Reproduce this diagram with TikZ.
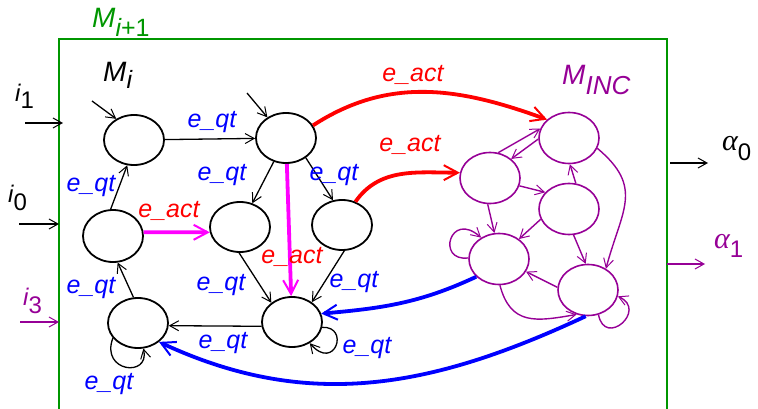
\documentclass[tikz,border=0pt]{standalone}
\usepackage{fontspec}
\setmainfont{Liberation Sans}
\newfontfamily\greekf{Liberation Serif}
\usetikzlibrary{shapes.geometric,arrows.meta}
\definecolor{grn}{RGB}{0,150,0}
\definecolor{pur}{RGB}{150,0,150}
\definecolor{mag}{RGB}{255,0,255}
\definecolor{blu}{RGB}{0,0,255}
\definecolor{rd}{RGB}{255,0,0}
\begin{document}
\begin{tikzpicture}[x=1pt,y=-1pt,
  st/.style={ellipse,draw,line width=1.8pt,minimum width=60pt,minimum height=50pt,inner sep=0pt},
  pst/.style={st,draw=pur,line width=1.6pt},
  blk/.style={line width=1.3pt,-{Straight Barb[length=9pt,width=10pt,line width=1pt]}},
  pedge/.style={pur,line width=1.4pt,-{Straight Barb[length=9pt,width=10pt,line width=1pt]}},
  thk/.style={line width=3.8pt,-{Straight Barb[length=14pt,width=15pt,line width=2pt]}},
  lbl/.style={font=\fontsize{25}{28}\selectfont\itshape,anchor=base,inner sep=0pt},
  big/.style={font=\fontsize{28}{30}\selectfont,anchor=base west,inner sep=0pt},
  inp/.style={font=\fontsize{24}{26}\selectfont,anchor=base west,inner sep=0pt}
]
\useasboundingbox (0,0) rectangle (758,409);
% frame
\draw[grn,line width=1.5pt] (59,412) -- (59,39) -- (667,39) -- (667,412);
\node[big,text=grn] (Mi1) at (92,28) {\itshape M\raisebox{-9pt}{\fontsize{25}{25}\selectfont\itshape i\upshape+1}};
\node[big] (Mi) at (103,82) {\itshape M\raisebox{-7pt}{\fontsize{25}{25}\selectfont\itshape i}};
\node[big,text=pur] (Minc) at (562,85) {\itshape M\raisebox{-10pt}{\fontsize{26}{26}\selectfont\itshape INC}};
% inputs / outputs
\node[inp] (i1) at (15,102) {\itshape i\raisebox{-7pt}{\upshape 1}};
\node[inp] (i0) at (8,202) {\itshape i\raisebox{-9pt}{\upshape 0}};
\node[inp,text=pur] (i3) at (23,305) {\itshape i\raisebox{-8pt}{\upshape 3}};
\node[inp] (a0) at (722,150) {{\greekf\itshape\fontsize{30}{30}\selectfont α}\raisebox{-10pt}{\fontsize{24}{24}\selectfont 0}};
\node[inp,text=pur] (a1) at (714,248) {{\greekf\itshape\fontsize{30}{30}\selectfont α}\raisebox{-9pt}{\fontsize{24}{24}\selectfont 1}};
\coordinate (i1s) at (25,123); \coordinate (i1e) at (63,123);
\coordinate (i0s) at (19,224); \coordinate (i0e) at (59,224);
\coordinate (i3s) at (20,322); \coordinate (i3e) at (59,322);
\coordinate (a0s) at (670,163); \coordinate (a0e) at (708,163);
\coordinate (a1s) at (667,264); \coordinate (a1e) at (705,264);
\draw[blk] (i1s) -- (i1e);
\draw[blk] (i0s) -- (i0e);
\draw[pedge] (i3s) -- (i3e);
\draw[blk] (a0s) -- (a0e);
\draw[pedge] (a1s) -- (a1e);
% black states
\node[st] (A) at (134,140) {};
\node[st] (B) at (286,138) {};
\node[st,minimum height=52pt] (C) at (113,236) {};
\node[st] (D) at (240,227) {};
\node[st] (E) at (342,225) {};
\node[st] (F) at (138,323) {};
\node[st] (G) at (292,322) {};
% purple states
\node[pst,minimum height=51pt] (P1) at (569,138) {};
\node[pst,minimum height=51pt] (P2) at (490,178) {};
\node[pst,minimum height=51pt] (P3) at (569,209) {};
\node[pst,minimum height=51pt] (P4) at (499,259) {};
\node[pst,minimum height=51pt] (P5) at (588,290) {};
% initial arrows
\coordinate (iA) at (92,101); \coordinate (iB) at (247,93);
\draw[blk] (iA) -- (A.130);
\draw[blk] (iB) -- (B.132);
% black edges
\draw[blk] (A) -- (B);
\draw[blk] (C.95) -- (A.255);
\draw[blk] (B) -- (D);
\draw[blk] (B.-45) -- (E.110);
\draw[blk] (D.268) -- (G.137);
\draw[blk] (E.275) -- (G.45);
\draw[blk] (G.188) -- (F.355);
\draw[blk] (F.100) -- (C.-80);
\draw[blk] (F.211) .. controls (100,372) and (150,378) .. (F.282);
\draw[blk] (G.-10) .. controls (350,326) and (335,372) .. (G.-50);
% magenta
\draw[thk,mag] (C.7) -- (D.190);
\draw[thk,mag] (B) -- (G);
% red
\draw[thk,rd] (B.25) to[out=33,in=160] (P1.140);
\draw[thk,rd] (E.60) to[out=55,in=180] (P2.170);
% blue
\draw[thk,blu] (P4.218) to[out=205,in=5] (G.16);
\draw[thk,blu] (P5.265) to[out=205,in=-25] (F.318);
% purple edges
\draw[pedge] (P2.72) -- (P1.162);
\draw[pedge] (P1.182) -- (P2.42);
\draw[pedge] (P2.-15) -- (P3.145);
\draw[pedge] (P3.75) -- (P1.-88);
\draw[pedge] (P2.-95) -- (P4.100);
\draw[pedge] (P3.200) -- (P4.45);
\draw[pedge] (P3.-80) -- (P5.95);
\draw[pedge] (P1.-20) to[out=-40,in=75,looseness=1.3] (P5.50);
\draw[pedge] (P5.175) -- (P4.-25);
\draw[pedge] (P4.-88) to[out=-75,in=190,looseness=1.3] (P5.245);
\draw[pedge] (P4.178) .. controls (436,262) and (450,210) .. (P4.130);
\draw[pedge] (P5.-67) .. controls (605,348) and (648,310) .. (P5.-12);
% labels
\node[lbl,text=blu] (l1) at (212,128) {e\_qt};
\node[lbl,text=blu] (l2) at (91,191) {e\_qt};
\node[lbl,text=blu] (l3) at (222,180) {e\_qt};
\node[lbl,text=blu] (l4) at (334,180) {e\_qt};
\node[lbl,text=blu] (l5) at (221,290) {e\_qt};
\node[lbl,text=blu] (l6) at (354,287) {e\_qt};
\node[lbl,text=blu] (l7) at (91,293) {e\_qt};
\node[lbl,text=blu] (l8) at (223,348) {e\_qt};
\node[lbl,text=blu] (l9) at (109,389) {e\_qt};
\node[lbl,text=blu] (l10) at (367,353) {e\_qt};
\node[lbl,text=rd] (r1) at (169,218) {e\_act};
\node[lbl,text=rd] (r2) at (292,263) {e\_act};
\node[lbl,text=rd] (r3) at (413,82) {e\_act};
\node[lbl,text=rd] (r4) at (410,152) {e\_act};
\end{tikzpicture}
\end{document}
